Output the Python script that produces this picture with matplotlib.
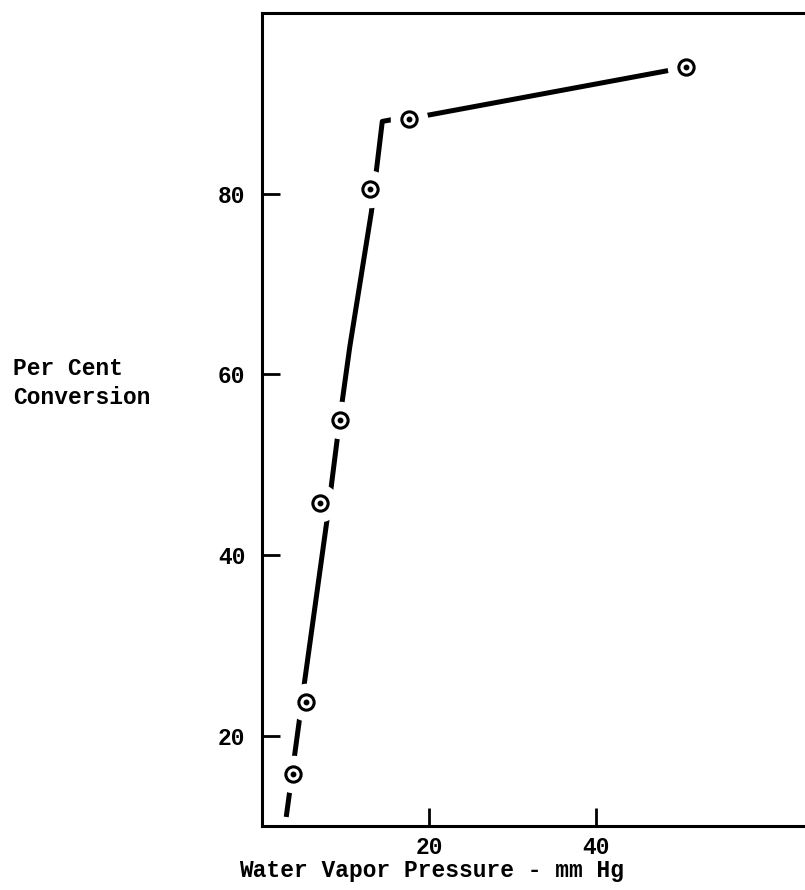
import matplotlib
matplotlib.use("Agg")
import matplotlib.pyplot as plt

# measured points
pressure = [3.7, 5.3, 6.9, 9.3, 12.9, 17.6, 50.8]
conversion = [15.8, 23.7, 45.8, 55.0, 80.5, 88.3, 94.0]

# hand drawn curve through the points
curve_x = [2.9, 5.1, 7.8, 9.3, 10.5, 13.1, 14.4, 15.6, 17.6, 50.8]
curve_y = [11.0, 26.0, 44.0, 55.0, 63.0, 78.0, 88.0, 88.2, 88.3, 94.0]

xticks = [20, 40]
yticks = [20, 40, 60, 80]

font = "Liberation Mono"

fig = plt.figure(figsize=(8.05, 8.9), dpi=100)
ax = fig.add_axes([262 / 805, 64 / 890, 1 - 262 / 805, 813 / 890])

ax.plot(curve_x, curve_y, color="black", lw=3.6, solid_capstyle="butt", zorder=2)
# white halo so the line breaks around each point
ax.plot(pressure, conversion, ls="none", marker="o", ms=26, mfc="white",
        mec="white", zorder=3)
ax.plot(pressure, conversion, ls="none", marker="o", ms=11, mfc="white",
        mec="black", mew=2.2, zorder=4)
ax.plot(pressure, conversion, ls="none", marker="o", ms=3.2, mfc="black",
        mec="black", zorder=5)

ax.set_xlim(0, 65)
ax.set_ylim(10, 100)
ax.set_xticks(xticks)
ax.set_yticks(yticks)
ax.spines["right"].set_visible(False)
for s in ["left", "bottom", "top"]:
    ax.spines[s].set_linewidth(2.2)
ax.tick_params(direction="in", length=13, width=2, labelsize=16.5)
ax.tick_params(axis="y", pad=12)
ax.tick_params(axis="x", pad=7)
for lab in ax.get_xticklabels() + ax.get_yticklabels():
    lab.set_family(font)
    lab.set_weight("bold")

fig.text(432 / 805, 1 - 870 / 890, "Water Vapor Pressure - mm Hg",
         ha="center", va="center", fontsize=16.5, family=font, weight="bold")
fig.text(13 / 805, 1 - 383 / 890, "Per Cent\nConversion", ha="left",
         va="center", fontsize=16.5, family=font, weight="bold", linespacing=1.3)

fig.savefig("out.png", dpi=100)
